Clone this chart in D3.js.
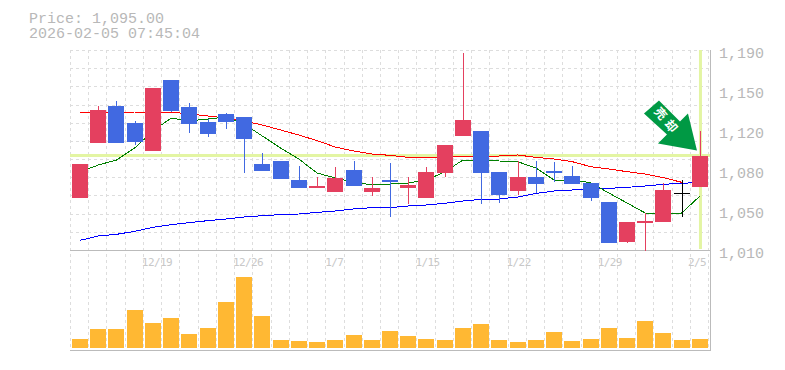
<!DOCTYPE html>
<html>
<head>
<meta charset="utf-8">
<script src="https://cdnjs.cloudflare.com/ajax/libs/d3/7.8.5/d3.min.js"></script>
<style>
  body {margin:0; background:#fff;}
  text {font-family:"Liberation Mono",monospace;}
</style>
</head>
<body>
<script>
const open_  = [1056.8,1106.3,1139.6,1124.3,1099.1,1163,1138.7,1125.2,1132.4,1129.7,1087.4,1090.1,1073,1065.8,1062.2,1082,1062.2,1073,1065.8,1056.8,1079.3,1112.6,1117.1,1080.2,1063.1,1075.7,1081.1,1076.6,1070.3,1053.2,1017.2,1034.3,1035.2,1061.3,1066.7];
const high   = [1087.4,1139.6,1144.1,1126.1,1155.8,1163,1142.3,1127.9,1133.3,1129.7,1097.3,1090.1,1085.6,1075.7,1084.7,1090.1,1075.7,1088.3,1075.7,1084.7,1104.5,1187.3,1117.1,1080.2,1090.1,1090.1,1089.2,1085.6,1070.3,1053.2,1035.2,1043.3,1070.3,1073,1117.1];
const low    = [1056.8,1106.3,1106.3,1104.5,1099.1,1134.2,1115.3,1111.7,1118.9,1079.3,1081.1,1073.9,1065.8,1065.8,1062.2,1067.6,1058.6,1039.7,1051.4,1056.8,1075.7,1112.6,1051.4,1052.3,1059.5,1061.3,1071.2,1069.4,1054.1,1016.3,1016.3,1009.1,1035.2,1039.7,1066.7];
const close_ = [1087.4,1136,1106.3,1107.2,1155.8,1135.1,1123.4,1114.4,1125.2,1109.9,1081.1,1073.9,1065.8,1067.6,1074.8,1067.6,1065.8,1071.2,1068.5,1080.2,1104.5,1127,1079.3,1059.5,1075.7,1069.4,1079.3,1069.4,1056.8,1016.3,1035.2,1036.1,1064,1061.3,1095];

const volume = [9,19,19,38,25,30,14,20,46,71,32,8,7,6,8,13,8,17,12,9,8,20,24,8,6,8,16,7,9,20,10,27,15,8,9];

const maShort = [1080.2,1086.5,1091,1101.8,1117.1,1128.8,1126.1,1127.9,1129.7,1123.4,1112.6,1101.8,1091.9,1079.3,1074.8,1071.2,1068.5,1069.4,1070.3,1073,1080.2,1091,1091,1090.1,1089.5,1083.8,1073,1073,1070.6,1061.3,1052.3,1043.3,1043.3,1043.3,1058.6];
const maMid   = [1133.3,1133.8,1133.8,1134.2,1134.2,1134.2,1132.4,1130.6,1128.8,1126.1,1122.5,1118,1113.5,1108.4,1102.7,1099.1,1096.4,1095.2,1093.4,1093.4,1093.7,1094.3,1094.3,1094.6,1095.5,1093.4,1091.9,1089.5,1085,1082.9,1080.5,1078.4,1075.1,1070.9];
const maLong  = [1018.7,1022.6,1024.1,1026.8,1030.4,1032.8,1034.6,1036.4,1037.9,1039.7,1040.9,1041.8,1042.4,1043.9,1045.1,1046.9,1048.1,1048.1,1049.6,1050.5,1052,1054.1,1055.6,1055.9,1057.7,1060.9,1063.1,1064,1065.4,1065.5,1066.4,1067.6,1069.1,1070,1070.8];

const dateLabels = {4:'12/19',9:'12/26',14:'1/7',19:'1/15',24:'1/22',29:'1/29',34:'2/5'};
const priceTicks = [1190,1154,1118,1082,1046,1010];
const lastPrice = 1095;
const headerLines = ['Price: 1,095.00','2026-02-05 07:45:04'];

const width = 785, height = 370;
const colUp = '#e4405f', colDown = '#4169e1', colGrid = '#dddddd', colAxis = '#b8b8b8', colMark = '#e3f5a3';

const svg = d3.select('body').append('svg')
              .attr('width',width)
              .attr('height',height)
              .style('display','block');

const xScale = d3.scaleBand()
                 .domain(d3.range(open_.length))
                 .range([70,708.2]);

const yScale = d3.scaleLinear()
                 .domain([1010,1190])
                 .range([250,50]);

const volScale = d3.scaleLinear()
                   .domain([0,71])
                   .range([348,277]);

const px = v => Math.round(v)+0.5;
const cx = i => xScale(i)+10;
const bodyX = i => Math.round(xScale(i)+2);

// grid
const grid = svg.append('g')
                .attr('stroke',colGrid)
                .attr('stroke-dasharray','3,3')
                .attr('shape-rendering','crispEdges');

grid.selectAll('.v')
    .data(d3.range(open_.length+1))
    .join('line')
    .attr('x1',i => px(i<open_.length ? xScale(i) : xScale(i-1)+xScale.step()))
    .attr('x2',i => px(i<open_.length ? xScale(i) : xScale(i-1)+xScale.step()))
    .attr('y1',50)
    .attr('y2',350);

grid.selectAll('.h')
    .data(d3.range(11))
    .join('line')
    .attr('x1',70)
    .attr('x2',710)
    .attr('y1',k => px(yScale(1190-k*180/11)))
    .attr('y2',k => px(yScale(1190-k*180/11)));

// axis frame
const frame = svg.append('g')
                 .attr('stroke','#bbbbbb')
                 .attr('shape-rendering','crispEdges');
frame.append('line').attr('x1',70).attr('x2',711).attr('y1',250.5).attr('y2',250.5);
frame.append('line').attr('x1',70).attr('x2',711).attr('y1',350.5).attr('y2',350.5);
frame.append('line').attr('x1',710.5).attr('x2',710.5).attr('y1',50).attr('y2',351);

// last price cross
svg.append('line')
   .attr('x1',70).attr('x2',710)
   .attr('y1',yScale(lastPrice)).attr('y2',yScale(lastPrice))
   .attr('stroke',colMark).attr('stroke-width',3);
svg.append('line')
   .attr('x1',cx(34)+0.5).attr('x2',cx(34)+0.5)
   .attr('y1',50).attr('y2',249)
   .attr('stroke',colMark).attr('stroke-width',3);

// moving averages
const line = d3.line()
               .x((d,i) => cx(i))
               .y(d => yScale(d));

[[maLong,'#0000ff'],[maMid,'#ff0000'],[maShort,'#007f00']].forEach(([s,c]) => {
  svg.append('path')
     .datum(s)
     .attr('d',line)
     .attr('fill','none')
     .attr('stroke',c)
     .attr('stroke-width',1)
     .attr('shape-rendering','crispEdges');
});

// candles
const candleColor = i => close_[i]>open_[i] ? colUp : close_[i]<open_[i] ? colDown : '#000000';
const candles = svg.append('g').attr('shape-rendering','crispEdges');

candles.selectAll('.wick')
       .data(d3.range(open_.length))
       .join('rect')
       .attr('x',i => bodyX(i)+8)
       .attr('width',1)
       .attr('y',i => Math.round(yScale(high[i])))
       .attr('height',i => Math.round(yScale(low[i]))-Math.round(yScale(high[i])))
       .attr('fill',candleColor);

candles.selectAll('.body')
       .data(d3.range(open_.length))
       .join('rect')
       .attr('x',bodyX)
       .attr('width',16)
       .attr('y',i => Math.round(yScale(Math.max(open_[i],close_[i]))))
       .attr('height',i => Math.max(1,Math.round(yScale(Math.min(open_[i],close_[i])))-Math.round(yScale(Math.max(open_[i],close_[i])))))
       .attr('fill',candleColor);

// volume
svg.append('g')
   .attr('shape-rendering','crispEdges')
   .selectAll('rect')
   .data(volume)
   .join('rect')
   .attr('x',(d,i) => bodyX(i))
   .attr('width',16)
   .attr('y',d => volScale(d))
   .attr('height',d => volScale(0)-volScale(d))
   .attr('fill','#ffb833');

// price axis
const yAxis = d3.axisRight(yScale)
                .tickValues(priceTicks)
                .tickSize(0)
                .tickPadding(9)
                .tickFormat(d => d3.format(',')(Math.round(d/10)*10));

svg.append('g')
   .attr('transform','translate(710,0)')
   .call(yAxis)
   .call(g => g.select('.domain').remove())
   .selectAll('text')
   .attr('dy',7)
   .attr('fill',colAxis)
   .style('font-family','"Liberation Mono",monospace')
   .style('font-size','15px');

// date labels
const labelShift = {5:4,4:1,3:-1};
svg.append('g')
   .selectAll('text')
   .data(Object.keys(dateLabels).map(Number))
   .join('text')
   .attr('x',i => cx(i)+labelShift[dateLabels[i].length]-(i===34 ? 2 : 0))
   .attr('y',266)
   .attr('text-anchor','middle')
   .attr('fill','#c8c8c8')
   .style('font-family','"DejaVu Sans Mono",monospace')
   .style('font-size','11px')
   .style('letter-spacing','-0.6px')
   .text(i => dateLabels[i]);

// header
svg.append('g')
   .selectAll('text')
   .data(headerLines)
   .join('text')
   .attr('x',29)
   .attr('y',(d,i) => 23+i*15)
   .attr('fill',colAxis)
   .style('font-size','15px')
   .text(d => d);

// arrow badge, hung off the last candle
const tipX = cx(34)-3, tipY = yScale(lastPrice)-5;
const arrowShape = [[-53,-37],[-38,-50],[-17,-29],[-9,-37],[0,0],[-39,-7],[-30,-16]];
const arrow = svg.append('g').attr('transform',`translate(${tipX},${tipY})`);
arrow.append('path')
     .attr('d',d3.line()(arrowShape)+'Z')
     .attr('fill','#009944');
arrow.append('text')
     .attr('transform','translate(-30,-29) rotate(50)')
     .attr('text-anchor','middle')
     .attr('dy',4)
     .attr('fill','#ffffff')
     .style('font-family','"Noto Sans CJK JP",sans-serif')
     .style('font-weight','bold')
     .style('font-size','12px')
     .style('letter-spacing','4px')
     .text('売却');
</script>
</body>
</html>
